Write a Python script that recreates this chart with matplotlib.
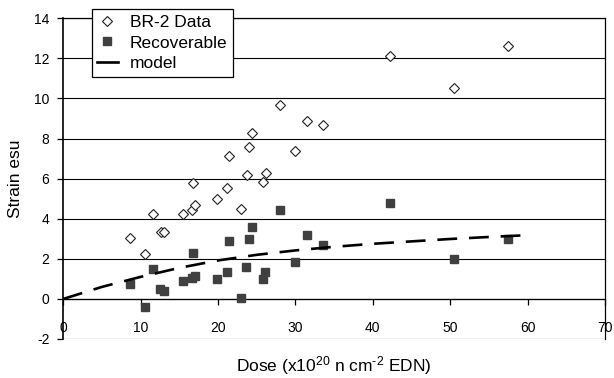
import matplotlib
matplotlib.use("Agg")
import matplotlib.pyplot as plt
from matplotlib.lines import Line2D

plt.rcParams['font.family'] = ['Liberation Sans', 'DejaVu Sans']
plt.rcParams['mathtext.fontset'] = 'custom'
plt.rcParams['mathtext.rm'] = 'Liberation Sans'
plt.rcParams['mathtext.it'] = 'Liberation Sans'
plt.rcParams['mathtext.default'] = 'regular'

# BR-2 data (dose, strain)
br2_dose = [8.6, 10.6, 11.6, 12.6, 13.0, 15.5, 16.6, 17.0, 16.7, 19.8, 21.2, 23.0, 25.8,
            26.2, 23.7, 21.4, 24.0, 24.4, 28.0, 30.0, 31.5, 33.6, 42.2, 50.5, 57.5]
br2_strain = [3.05, 2.24, 4.23, 3.35, 3.35, 4.23, 4.46, 4.71, 5.77, 4.98, 5.54, 4.48, 5.84,
              6.30, 6.17, 7.13, 7.58, 8.27, 9.69, 7.36, 8.89, 8.69, 12.14, 10.53, 12.64]

# Recoverable
rec_dose = [8.6, 10.6, 11.6, 12.5, 13.0, 15.5, 16.6, 17.0, 16.7, 19.8, 21.2, 21.4, 23.0,
            23.6, 24.0, 24.4, 25.8, 26.1, 28.0, 30.0, 31.5, 33.6, 42.2, 50.5, 57.5]
rec_strain = [0.75, -0.38, 1.48, 0.48, 0.40, 0.91, 1.03, 1.16, 2.27, 0.99, 1.33, 2.90, 0.03,
              1.61, 2.97, 3.60, 0.98, 1.36, 4.46, 1.86, 3.18, 2.67, 4.81, 1.97, 2.99]

# model curve
model_dose = [0, 5, 10, 15, 20, 25, 30, 35, 40, 45, 50, 55, 60]
model_strain = [0, 0.6, 1.1, 1.55, 1.92, 2.2, 2.42, 2.6, 2.75, 2.87, 2.99, 3.09, 3.18]

xticks = [0, 10, 20, 30, 40, 50, 60, 70]
yticks = [-2, 0, 2, 4, 6, 8, 10, 12, 14]

W, H = 614, 378
fig = plt.figure(figsize=(W / 100, H / 100), dpi=100)
x0, x1, y0, y1 = 63.3, 605, 18.3, 339
ax = fig.add_axes([x0 / W, 1 - y1 / H, (x1 - x0) / W, (y1 - y0) / H])

ax.set_xlim(0, 70)
ax.set_ylim(-2, 14)
ax.set_xticks(xticks)
ax.set_yticks(yticks)
ax.set_yticklabels([str(v) for v in yticks])

for y in yticks:
    ax.axhline(y, color='black', lw=0.8, zorder=1)

ax.spines['bottom'].set_position(('data', 0))
for s in ['top', 'right', 'left', 'bottom']:
    ax.spines[s].set_color('black')
    ax.spines[s].set_linewidth(0.9)
ax.spines['left'].set_linewidth(1.2)

ax.tick_params(axis='both', direction='out', length=4, width=0.9, labelsize=10, colors='black')
ax.tick_params(axis='x', pad=12)
ax.tick_params(axis='y', pad=6)

ax.plot(br2_dose, br2_strain, linestyle='none', marker='D', ms=5.4, mfc='white',
        mec='#222222', mew=0.8, zorder=3, label='BR-2 Data')
ax.plot(rec_dose, rec_strain, linestyle='none', marker='s', ms=6, mfc='#404040',
        mec='#404040', zorder=3, label='Recoverable')
ax.plot(model_dose, model_strain, color='black', lw=1.9, dashes=(7.5, 4.5), zorder=4,
        label='model')

ax.set_xlabel('Dose (x10$^{20}$ n cm$^{\u2010 2}$ EDN)', fontsize=12.5, labelpad=14)
ax.set_ylabel('Strain esu', fontsize=12.5, labelpad=8)

handles = [
    Line2D([], [], linestyle='none', marker='D', ms=5.4, mfc='white', mec='#222222', mew=0.8),
    Line2D([], [], linestyle='none', marker='s', ms=6, mfc='#404040', mec='#404040'),
    Line2D([], [], color='black', lw=1.9),
]
leg = ax.legend(handles, ['BR-2 Data', 'Recoverable', 'model'], loc='upper left',
                bbox_to_anchor=((91.7 - x0) / (x1 - x0), (y1 - 9.3) / (y1 - y0)),
                fontsize=12.5, frameon=True, fancybox=False, framealpha=1,
                edgecolor='black', borderpad=0.3, labelspacing=0.33,
                handlelength=1.2, handletextpad=0.7, borderaxespad=0)
leg.get_frame().set_linewidth(0.9)
leg.set_zorder(5)

fig.savefig('out.png', dpi=100, facecolor='white')
